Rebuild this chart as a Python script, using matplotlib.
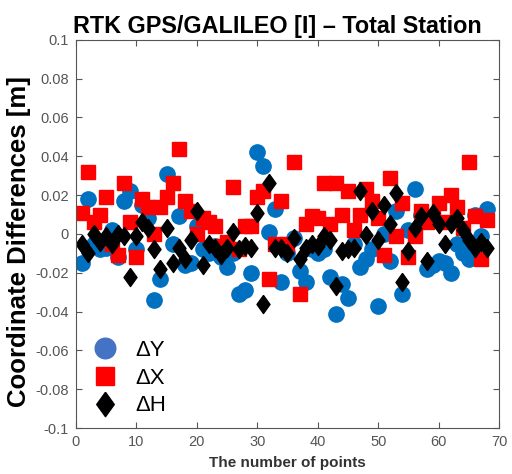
import numpy as np
import matplotlib.pyplot as plt

plt.rcParams['font.family'] = ['Liberation Sans', 'DejaVu Sans']

points = np.arange(1, 69)

dY = [-0.015, 0.018, -0.005, -0.008, -0.007, 0.002, -0.012, 0.017, 0.022, -0.008,
      0.015, 0.008, -0.034, -0.023, 0.031, -0.005, 0.009, -0.016, -0.015, 0.004,
      -0.008, -0.010, -0.006, -0.012, -0.017, -0.010, -0.031, -0.029, -0.020, 0.042,
      0.035, 0.001, 0.013, -0.025, -0.010, -0.002, -0.019, -0.025, -0.008, -0.010,
      -0.008, -0.022, -0.041, -0.026, -0.033, -0.005, -0.017, -0.013, -0.008, -0.037,
      0.000, -0.014, 0.012, -0.031, 0.002, 0.023, 0.010, -0.018, -0.016, -0.014,
      -0.015, -0.020, -0.005, -0.010, -0.013, 0.010, -0.001, 0.013]

dX = [0.011, 0.032, 0.006, 0.010, 0.019, -0.005, -0.011, 0.026, 0.006, -0.012,
      0.018, 0.014, 0.000, 0.014, 0.019, 0.026, 0.044, 0.017, 0.012, 0.000,
      0.008, 0.006, 0.004, -0.006, -0.004, 0.024, -0.008, 0.004, 0.004, 0.019,
      0.022, -0.023, -0.005, 0.017, -0.005, 0.037, -0.031, 0.005, 0.009, 0.008,
      0.026, 0.005, 0.026, 0.010, 0.022, 0.002, 0.010, 0.023, 0.017, 0.008,
      -0.011, 0.029, -0.001, 0.016, -0.012, -0.001, 0.012, 0.006, 0.008, 0.016,
      0.006, 0.020, 0.014, 0.003, 0.037, 0.009, -0.013, 0.007]

dH = [-0.005, -0.010, 0.000, -0.004, -0.001, -0.005, 0.000, -0.001, -0.022, -0.001,
      0.006, 0.003, -0.008, -0.018, 0.003, -0.015, -0.007, -0.013, -0.003, 0.012,
      -0.016, -0.005, -0.007, -0.011, -0.007, 0.001, -0.008, -0.006, -0.007, 0.011,
      -0.036, 0.026, -0.007, -0.007, -0.010, -0.002, -0.013, -0.007, -0.005, -0.006,
      -0.001, -0.003, -0.027, -0.009, -0.008, -0.007, 0.022, -0.0005, 0.012, -0.003,
      0.015, 0.005, 0.021, -0.025, -0.009, 0.003, 0.009, -0.014, 0.011, 0.005,
      -0.005, 0.005, 0.008, 0.002, -0.003, -0.007, -0.004, -0.007]

# MATLAB-style diamond: taller than wide
diamond = [(0, 1), (0.72, 0), (0, -1), (-0.72, 0), (0, 1)]

fig = plt.figure(figsize=(5.12, 4.74), dpi=100)
ax = fig.add_axes([0.148, 0.097, 0.827, 0.819])

ax.plot(points, dY, 'o', color='#0070C0', markersize=11, label='ΔY')
ax.plot(points, dX, 's', color='#FF0000', markersize=9.5, label='ΔX')
ax.plot(points, dH, marker=diamond, linestyle='none', color='black',
        markersize=13, label='ΔH')

ax.set_xlim(0, 70)
ax.set_ylim(-0.1, 0.1)
ax.set_xticks(np.arange(0, 71, 10))
ax.set_yticks(np.arange(-0.1, 0.101, 0.02))
ax.set_yticklabels(['-0.1', '-0.08', '-0.06', '-0.04', '-0.02', '0',
                    '0.02', '0.04', '0.06', '0.08', '0.1'])
ax.tick_params(direction='in', top=True, right=True, labelsize=10.5,
               colors='#555555', length=4, pad=5)
for s in ax.spines.values():
    s.set_color('#555555')

ax.set_title('RTK GPS/GALILEO [I] – Total Station', fontsize=16.8,
             fontweight='bold', pad=5, x=0.475)
ax.set_ylabel('Coordinate Differences [m]', fontsize=18.5, fontweight='bold')
ax.yaxis.set_label_coords(-0.105, 0.48)
ax.set_xlabel('The number of points', fontsize=11, fontweight='bold',
              color='#333333', labelpad=5)

leg = ax.legend(loc='lower left', frameon=False, fontsize=16, markerscale=1.35,
                handlelength=1.2, handletextpad=0.8, labelspacing=0.3,
                borderpad=0.2, bbox_to_anchor=(0.0, -0.01))
leg.legend_handles[0].set_color('#4472C4')

fig.savefig('out.png', dpi=100)
